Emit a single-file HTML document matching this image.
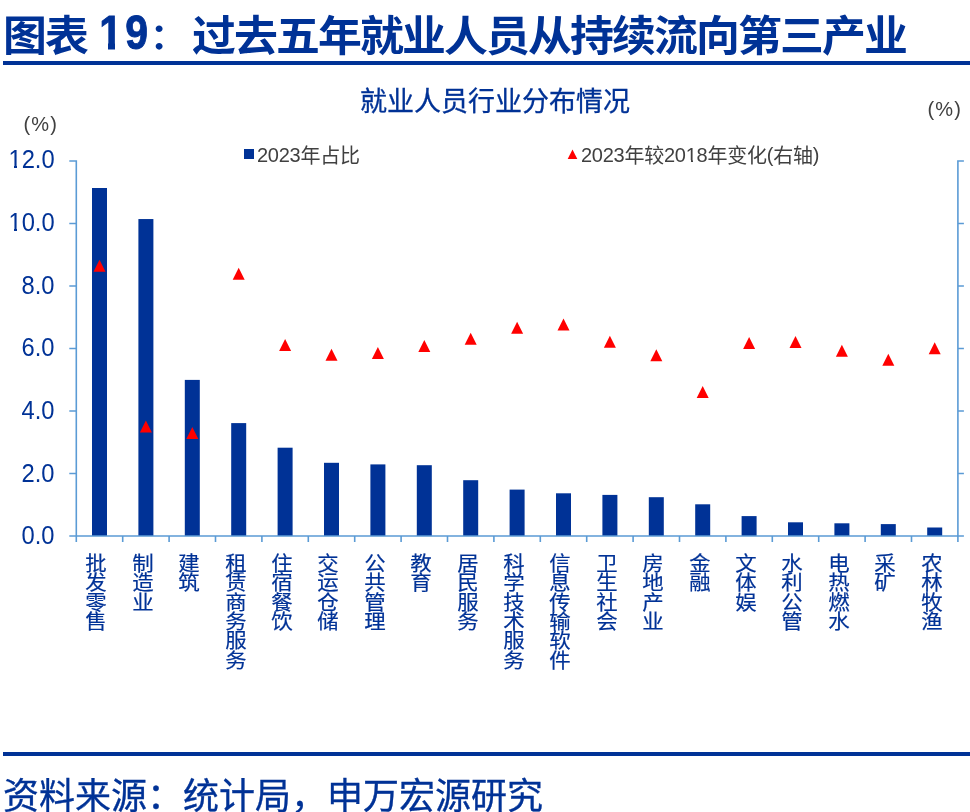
<!DOCTYPE html>
<html><head><meta charset="utf-8">
<style>
html,body{margin:0;padding:0;background:#fff;}
body{width:970px;height:812px;position:relative;overflow:hidden;font-family:"Liberation Sans","Noto Sans CJK SC",sans-serif;}
.abs{position:absolute;white-space:nowrap;}
#title{left:3px;top:1px;font-size:42px;font-weight:bold;color:#003296;line-height:68px;letter-spacing:-1.8px;transform:scaleX(1.045);transform-origin:0 0;}
#title .colon{font-size:35px;margin-left:3px;margin-right:7px;position:relative;top:-1.8px;}
#title .num{font-size:48px;margin-left:1.5px;display:inline-block;transform:scaleX(0.816);transform-origin:0 0;margin-right:-15.6px;position:relative;top:-2px;letter-spacing:4px;-webkit-text-stroke:0.9px #003296;}
#tline{left:3px;top:61px;width:967px;height:4px;background:#003296;}
#sub{left:360px;top:81.5px;font-size:27px;color:#003296;line-height:40px;-webkit-text-stroke:0.3px #003296;}
.pct{font-size:20px;color:#404040;line-height:24px;letter-spacing:1.2px;}
#pl{left:23.5px;top:111.8px;}
#pr{left:927.5px;top:96.8px;}
.leg{font-size:20px;color:#404040;line-height:24px;letter-spacing:-0.25px;}
.cj{position:relative;top:1.2px;}
#leg1{left:257px;top:142.6px;}
#leg2{left:581px;top:142.6px;}
#sq{left:244px;top:149px;width:10px;height:10px;background:#003296;}
.yl{position:absolute;right:915.5px;font-size:25.5px;color:#003296;line-height:28px;text-align:right;transform:scaleX(0.93);transform-origin:100% 0;}
.xl{position:absolute;top:555.15px;width:20px;font-size:20px;line-height:19.3px;color:#003296;text-align:center;font-family:"Liberation Sans","Noto Sans CJK SC",sans-serif;transform:scaleX(1.07);-webkit-text-stroke:0.2px #003296;}
#fline{left:3px;top:752px;width:967px;height:4px;background:#003296;}
#foot{left:3px;top:772px;font-size:36px;color:#003296;line-height:50px;-webkit-text-stroke:0.35px #003296;}
svg{position:absolute;left:0;top:0;}
</style></head><body>
<div id="title" class="abs">图表 <span class="num">19</span><span class="colon">：</span>过去五年就业人员从持续流向第三产业</div>
<div class="abs" style="left:100px;top:43.2px;width:8.1px;height:7px;background:#fff"></div>
<div class="abs" style="left:114.9px;top:43.2px;width:8px;height:7px;background:#fff"></div>
<div id="tline" class="abs"></div>
<div id="sub" class="abs">就业人员行业分布情况</div>
<div id="pl" class="abs pct">(%)</div>
<div id="pr" class="abs pct">(%)</div>
<div id="sq" class="abs"></div>
<div id="leg1" class="abs leg">2023<span class="cj">年占比</span></div>
<div id="leg2" class="abs leg">2023<span class="cj">年较</span>2018<span class="cj">年变化</span>(<span class="cj">右轴</span>)</div>
<svg width="970" height="812" viewBox="0 0 970 812">
<rect x="92.00" y="188.00" width="15" height="348.00" fill="#003296"/>
<rect x="138.40" y="219.05" width="15" height="316.95" fill="#003296"/>
<rect x="184.80" y="379.90" width="15" height="156.10" fill="#003296"/>
<rect x="231.20" y="423.10" width="15" height="112.90" fill="#003296"/>
<rect x="277.60" y="447.70" width="15" height="88.30" fill="#003296"/>
<rect x="324.00" y="462.80" width="15" height="73.20" fill="#003296"/>
<rect x="370.40" y="464.40" width="15" height="71.60" fill="#003296"/>
<rect x="416.80" y="465.20" width="15" height="70.80" fill="#003296"/>
<rect x="463.20" y="480.20" width="15" height="55.80" fill="#003296"/>
<rect x="509.60" y="489.60" width="15" height="46.40" fill="#003296"/>
<rect x="556.00" y="493.30" width="15" height="42.70" fill="#003296"/>
<rect x="602.40" y="494.90" width="15" height="41.10" fill="#003296"/>
<rect x="648.80" y="497.20" width="15" height="38.80" fill="#003296"/>
<rect x="695.20" y="504.30" width="15" height="31.70" fill="#003296"/>
<rect x="741.60" y="516.10" width="15" height="19.90" fill="#003296"/>
<rect x="788.00" y="522.30" width="15" height="13.70" fill="#003296"/>
<rect x="834.40" y="523.30" width="15" height="12.70" fill="#003296"/>
<rect x="880.80" y="524.10" width="15" height="11.90" fill="#003296"/>
<rect x="927.20" y="527.50" width="15" height="8.50" fill="#003296"/>
<path d="M76.30 160.25V536.00 M957.90 160.25V536.00 M69.30 161.00H76.30 M957.90 161.00H963.90 M69.30 223.50H76.30 M957.90 223.50H963.90 M69.30 286.00H76.30 M957.90 286.00H963.90 M69.30 348.50H76.30 M957.90 348.50H963.90 M69.30 411.00H76.30 M957.90 411.00H963.90 M69.30 473.50H76.30 M957.90 473.50H963.90 M69.30 536.00H76.30 M957.90 536.00H963.90 M69.30 536.00H963.90 M76.30 536.00V542.00 M122.70 536.00V542.00 M169.10 536.00V542.00 M215.50 536.00V542.00 M261.90 536.00V542.00 M308.30 536.00V542.00 M354.70 536.00V542.00 M401.10 536.00V542.00 M447.50 536.00V542.00 M493.90 536.00V542.00 M540.30 536.00V542.00 M586.70 536.00V542.00 M633.10 536.00V542.00 M679.50 536.00V542.00 M725.90 536.00V542.00 M772.30 536.00V542.00 M818.70 536.00V542.00 M865.10 536.00V542.00 M911.50 536.00V542.00 M957.90 536.00V542.00" stroke="#5b9bd5" stroke-width="1.6" fill="none"/>
<path d="M99.50 259.75L105.50 271.75L93.50 271.75Z" fill="#ff0000"/>
<path d="M145.90 420.50L151.90 432.50L139.90 432.50Z" fill="#ff0000"/>
<path d="M192.30 427.00L198.30 439.00L186.30 439.00Z" fill="#ff0000"/>
<path d="M238.70 267.80L244.70 279.80L232.70 279.80Z" fill="#ff0000"/>
<path d="M285.10 338.90L291.10 350.90L279.10 350.90Z" fill="#ff0000"/>
<path d="M331.50 348.70L337.50 360.70L325.50 360.70Z" fill="#ff0000"/>
<path d="M377.90 346.90L383.90 358.90L371.90 358.90Z" fill="#ff0000"/>
<path d="M424.30 339.90L430.30 351.90L418.30 351.90Z" fill="#ff0000"/>
<path d="M470.70 332.80L476.70 344.80L464.70 344.80Z" fill="#ff0000"/>
<path d="M517.10 321.80L523.10 333.80L511.10 333.80Z" fill="#ff0000"/>
<path d="M563.50 318.60L569.50 330.60L557.50 330.60Z" fill="#ff0000"/>
<path d="M609.90 335.70L615.90 347.70L603.90 347.70Z" fill="#ff0000"/>
<path d="M656.30 349.20L662.30 361.20L650.30 361.20Z" fill="#ff0000"/>
<path d="M702.70 385.90L708.70 397.90L696.70 397.90Z" fill="#ff0000"/>
<path d="M749.10 336.90L755.10 348.90L743.10 348.90Z" fill="#ff0000"/>
<path d="M795.50 336.10L801.50 348.10L789.50 348.10Z" fill="#ff0000"/>
<path d="M841.90 344.80L847.90 356.80L835.90 356.80Z" fill="#ff0000"/>
<path d="M888.30 353.70L894.30 365.70L882.30 365.70Z" fill="#ff0000"/>
<path d="M934.70 342.30L940.70 354.30L928.70 354.30Z" fill="#ff0000"/>
<path d="M572.5 149.4L577.3 158.9L567.7 158.9Z" fill="#ff0000"/>
</svg>
<div class="yl" style="top:145.10px">12.0</div>
<div class="yl" style="top:207.80px">10.0</div>
<div class="yl" style="top:270.50px">8.0</div>
<div class="yl" style="top:333.20px">6.0</div>
<div class="yl" style="top:395.90px">4.0</div>
<div class="yl" style="top:458.60px">2.0</div>
<div class="yl" style="top:521.30px">0.0</div>

<div class="abs" style="left:686px;top:159.9px;width:5px;height:2.3px;background:#fff"></div>
<div class="abs" style="left:693px;top:159.9px;width:4px;height:2.3px;background:#fff"></div>
<div class="abs" style="left:9px;top:165.5px;width:5px;height:3px;background:#fff"></div>
<div class="abs" style="left:17px;top:165.5px;width:5px;height:3px;background:#fff"></div>
<div class="abs" style="left:9px;top:228.5px;width:5px;height:3px;background:#fff"></div>
<div class="abs" style="left:17px;top:228.5px;width:5px;height:3px;background:#fff"></div>
<div class="xl" style="left:86.30px">批<br>发<br>零<br>售</div>
<div class="xl" style="left:132.70px">制<br>造<br>业</div>
<div class="xl" style="left:179.10px">建<br>筑</div>
<div class="xl" style="left:225.50px">租<br>赁<br>商<br>务<br>服<br>务</div>
<div class="xl" style="left:271.90px">住<br>宿<br>餐<br>饮</div>
<div class="xl" style="left:318.30px">交<br>运<br>仓<br>储</div>
<div class="xl" style="left:364.70px">公<br>共<br>管<br>理</div>
<div class="xl" style="left:411.10px">教<br>育</div>
<div class="xl" style="left:457.50px">居<br>民<br>服<br>务</div>
<div class="xl" style="left:503.90px">科<br>学<br>技<br>术<br>服<br>务</div>
<div class="xl" style="left:550.30px">信<br>息<br>传<br>输<br>软<br>件</div>
<div class="xl" style="left:596.70px">卫<br>生<br>社<br>会</div>
<div class="xl" style="left:643.10px">房<br>地<br>产<br>业</div>
<div class="xl" style="left:689.50px">金<br>融</div>
<div class="xl" style="left:735.90px">文<br>体<br>娱</div>
<div class="xl" style="left:782.30px">水<br>利<br>公<br>管</div>
<div class="xl" style="left:828.70px">电<br>热<br>燃<br>水</div>
<div class="xl" style="left:875.10px">采<br>矿</div>
<div class="xl" style="left:921.50px">农<br>林<br>牧<br>渔</div>

<div id="fline" class="abs"></div>
<div id="foot" class="abs">资料来源：统计局，申万宏源研究</div>
</body></html>
